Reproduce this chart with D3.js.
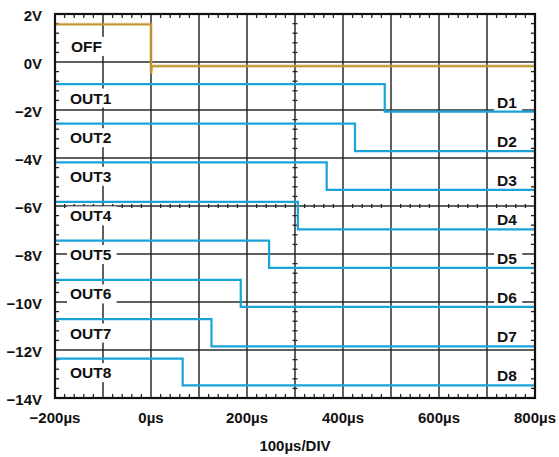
<!DOCTYPE html>
<html>
<head>
<meta charset="utf-8">
<script src="https://cdn.jsdelivr.net/npm/d3@7"></script>
<style>
  html, body { margin: 0; padding: 0; background: #fff; }
  svg { display: block; }
  text { font-family: "Liberation Sans", Arial, Helvetica, sans-serif; font-weight: bold; fill: #111; }
</style>
</head>
<body>
<svg id="chart" width="559" height="457"></svg>
<script>
// Axis ticks (µs and volts)
const timeTicks = [-200, 0, 200, 400, 600, 800];
const timeTickLabels = ["\u2212200\u00b5s", "0\u00b5s", "200\u00b5s", "400\u00b5s", "600\u00b5s", "800\u00b5s"];
const voltTicks = [2, 0, -2, -4, -6, -8, -10, -12, -14];
const voltTickLabels = ["2V", "0V", "\u22122V", "\u22124V", "\u22126V", "\u22128V", "\u221210V", "\u221212V", "\u221214V"];
const timeDivLabel = "100\u00b5s/DIV";

// OFF control signal: high level, low level, and the short undershoot at the edge
const offName = "OFF";
const offTimes = [-200, 0, 0, 2, 800];
const offVolts = [1.57, 1.57, -0.5, -0.17, -0.17];

// Eight sequenced outputs: level before and after each one switches
const outputNames = ["OUT1", "OUT2", "OUT3", "OUT4", "OUT5", "OUT6", "OUT7", "OUT8"];
const driverNames = ["D1", "D2", "D3", "D4", "D5", "D6", "D7", "D8"];
const switchTimes = [487, 425, 366, 306, 246, 187, 126, 66];
const highVolts = [-0.92, -2.57, -4.18, -5.83, -7.44, -9.08, -10.71, -12.36];
const lowVolts = [-2.07, -3.71, -5.33, -6.97, -8.58, -10.2, -11.85, -13.47];

const margin = { left: 55, top: 14, right: 24, bottom: 59 };
const W = 559, H = 457;
const iw = W - margin.left - margin.right;   // 480
const ih = H - margin.top - margin.bottom;   // 384

const x = d3.scaleLinear().domain([-200, 800]).range([0, iw]);
const y = d3.scaleLinear().domain([-14, 2]).range([ih, 0]);

const svg = d3.select("#chart");
svg.append("rect").attr("width", W).attr("height", H).attr("fill", "#fff");
const g = svg.append("g").attr("transform", `translate(${margin.left},${margin.top})`);

// Major grid
const gridColor = "#2b2b2b";
const xGrid = d3.range(-100, 800, 100);
const yGrid = d3.range(0, -14, -2);
g.append("g").selectAll("line").data(xGrid).join("line")
  .attr("x1", d => x(d)).attr("x2", d => x(d)).attr("y1", 0).attr("y2", ih)
  .attr("stroke", gridColor).attr("stroke-width", 1.5);
g.append("g").selectAll("line").data(yGrid).join("line")
  .attr("y1", d => y(d)).attr("y2", d => y(d)).attr("x1", 0).attr("x2", iw)
  .attr("stroke", gridColor).attr("stroke-width", 1.5);

// Minor ticks: every 0.2 division on the frame and the centre cross-hair
const minorT = d3.range(-200, 801, 20).filter(t => t % 100 !== 0);
const minorV = d3.range(2, -14.01, -0.4).map(v => Math.round(v * 10) / 10).filter(v => Math.abs(v % 2) > 1e-6);
const ticks = g.append("g").attr("stroke", "#222").attr("stroke-width", 1.3);
minorT.forEach(t => {
  ticks.append("line").attr("x1", x(t)).attr("x2", x(t)).attr("y1", 0).attr("y2", 4);
  ticks.append("line").attr("x1", x(t)).attr("x2", x(t)).attr("y1", ih).attr("y2", ih - 4);
  ticks.append("line").attr("x1", x(t)).attr("x2", x(t)).attr("y1", y(-6) - 2).attr("y2", y(-6) + 2);
});
minorV.forEach(v => {
  ticks.append("line").attr("y1", y(v)).attr("y2", y(v)).attr("x1", 0).attr("x2", 4);
  ticks.append("line").attr("y1", y(v)).attr("y2", y(v)).attr("x1", iw).attr("x2", iw - 4);
  ticks.append("line").attr("y1", y(v)).attr("y2", y(v)).attr("x1", x(300) - 2.5).attr("x2", x(300) + 2.5);
});

// Trace labels with white backing boxes
const boxLayer = g.append("g");
const traceLayer = g.append("g");
const labelLayer = g.append("g");

function addLabel(text, lx, ly) {
  const t = labelLayer.append("text").attr("x", lx).attr("y", ly)
    .attr("dominant-baseline", "central").attr("font-size", 15.5).text(text);
  const bb = t.node().getBBox();
  boxLayer.append("rect")
    .attr("x", bb.x - 3).attr("y", ly - 9.5)
    .attr("width", bb.width + 8).attr("height", 19)
    .attr("fill", "#fff");
}

addLabel(offName, 16, y(0.65));
outputNames.forEach((n, i) => addLabel(n, 15, y(highVolts[i]) + 14));
driverNames.forEach((n, i) => addLabel(n, 442, y(lowVolts[i]) - 9.5));

// OFF trace
const offPts = offTimes.map((t, i) => [x(t), y(offVolts[i])]);
const line = d3.line();
traceLayer.append("path").attr("d", line(offPts))
  .attr("fill", "none").attr("stroke", "#c9a23e").attr("stroke-width", 3.6).attr("stroke-opacity", 0.35);
traceLayer.append("path").attr("d", line(offPts))
  .attr("fill", "none").attr("stroke", "#c09530").attr("stroke-width", 1.8);

// Output traces: step from high to low level at each switch time
outputNames.forEach((n, i) => {
  const pts = [
    [x(-200), y(highVolts[i])],
    [x(switchTimes[i]), y(highVolts[i])],
    [x(switchTimes[i]), y(lowVolts[i])],
    [x(800), y(lowVolts[i])]
  ];
  traceLayer.append("path").attr("d", line(pts))
    .attr("fill", "none").attr("stroke", "#19a3d9").attr("stroke-width", 2.2);
});

// Frame
g.append("rect").attr("x", 0).attr("y", 0).attr("width", iw).attr("height", ih)
  .attr("fill", "none").attr("stroke", "#111").attr("stroke-width", 2.2);

// Axis labels
g.append("g").selectAll("text").data(voltTicks).join("text")
  .attr("x", -13).attr("y", d => y(d) + 1.5)
  .attr("text-anchor", "end").attr("dominant-baseline", "central")
  .attr("font-size", 15).text((d, i) => voltTickLabels[i]);
g.append("g").selectAll("text").data(timeTicks).join("text")
  .attr("x", d => x(d)).attr("y", ih + 19)
  .attr("text-anchor", "middle").attr("dominant-baseline", "central")
  .attr("font-size", 15).text((d, i) => timeTickLabels[i]);
g.append("text").attr("x", x(300)).attr("y", ih + 47)
  .attr("text-anchor", "middle").attr("dominant-baseline", "central")
  .attr("font-size", 15).text(timeDivLabel);
</script>
</body>
</html>
